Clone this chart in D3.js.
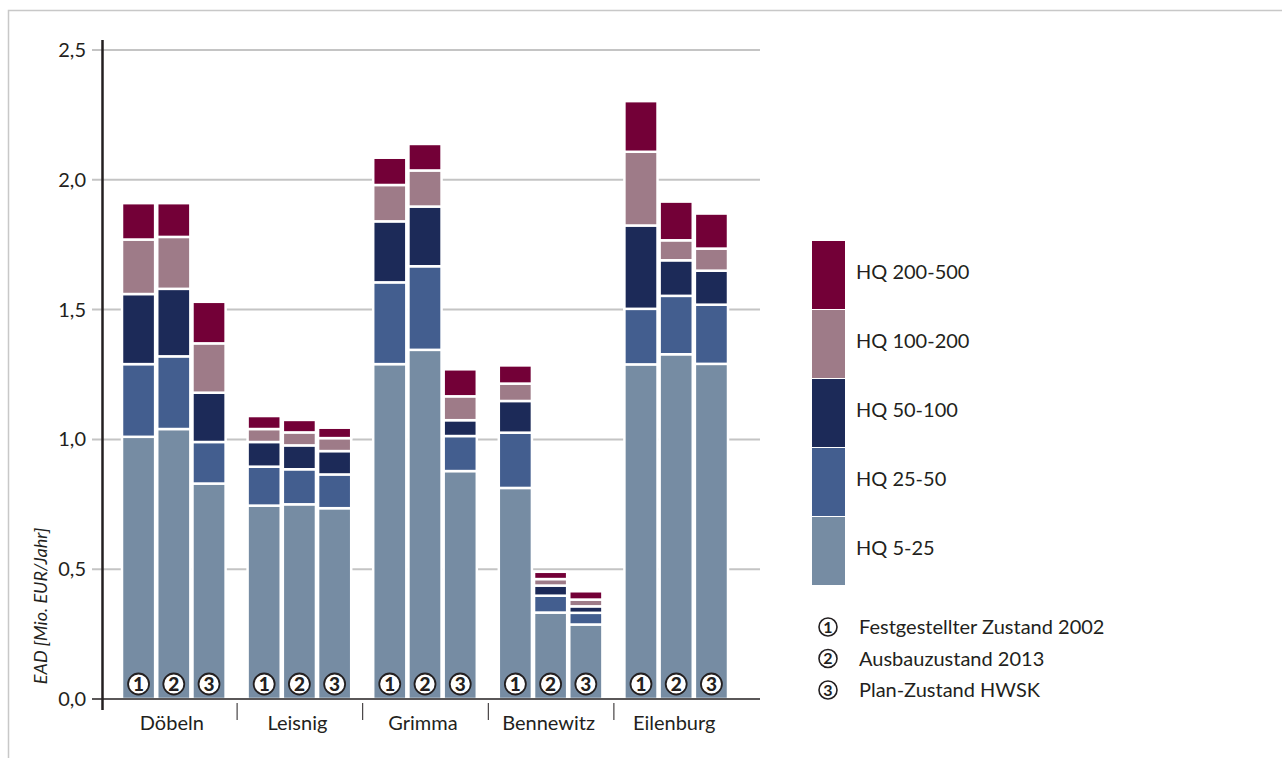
<!DOCTYPE html>
<html>
<head>
<meta charset="utf-8">
<script src="https://cdn.jsdelivr.net/npm/d3@7"></script>
<style>
  body { margin: 0; background: #fff; }
  svg text { font-family: Lato, "Open Sans", sans-serif; fill: #231f20; }
</style>
</head>
<body>
<svg width="1282" height="758"></svg>
<script>
// Data
var towns = ["Döbeln", "Leisnig", "Grimma", "Bennewitz", "Eilenburg"];
var states = ["Festgestellter Zustand 2002", "Ausbauzustand 2013", "Plan-Zustand HWSK"];
var classes = ["HQ 5-25", "HQ 25-50", "HQ 50-100", "HQ 100-200", "HQ 200-500"];
var yTicks = [0, 0.5, 1, 1.5, 2, 2.5];

// one value per bar: town by town, state 1..3
var hq5_25    = [1.01, 1.04, 0.83,  0.745, 0.75, 0.735,  1.29, 1.345, 0.878,  0.813, 0.333, 0.287,  1.289, 1.328, 1.291];
var hq25_50   = [0.28, 0.28, 0.16,  0.15, 0.135, 0.13,   0.315, 0.322, 0.135, 0.213, 0.065, 0.045,  0.214, 0.225, 0.228];
var hq50_100  = [0.27, 0.26, 0.19,  0.095, 0.092, 0.09,  0.235, 0.23, 0.061,  0.122, 0.039, 0.025,  0.321, 0.137, 0.131];
var hq100_200 = [0.21, 0.20, 0.19,  0.05, 0.05, 0.05,    0.14, 0.139, 0.092,  0.067, 0.025, 0.026,  0.284, 0.077, 0.085];
var hq200_500 = [0.14, 0.13, 0.16,  0.05, 0.048, 0.04,   0.105, 0.102, 0.104, 0.07, 0.028, 0.032,   0.195, 0.149, 0.135];

var colors = ["#768ca3", "#435e8f", "#1c2a58", "#9e7b88", "#730037"];

var svg = d3.select("svg");

// frame
svg.append("path")
  .attr("d", "M8.5,758 V10.5 H1282")
  .attr("fill", "none")
  .attr("stroke", "#c8c8c8")
  .attr("stroke-width", 1.5);

// rows for the stack
var series = [hq5_25, hq25_50, hq50_100, hq100_200, hq200_500];
var rows = [];
towns.forEach(function(t, i) {
  states.forEach(function(s, j) {
    var r = { town: t, state: j };
    classes.forEach(function(c, k) { r[c] = series[k][i * 3 + j]; });
    rows.push(r);
  });
});

// Scales
var y = d3.scaleLinear().domain([0, 2.5]).range([699, 50]);
var x0 = d3.scaleBand().domain(towns).range([111, 739]);
var x1 = d3.scaleBand().domain([0, 1, 2]).range([11, x0.bandwidth() - 11]).paddingInner(0.06);
var color = d3.scaleOrdinal().domain(classes).range(colors);

// grid
svg.append("g")
  .selectAll("line")
  .data(yTicks.slice(1))
  .enter().append("line")
    .attr("x1", 92).attr("x2", 760)
    .attr("y1", function(d) { return y(d); })
    .attr("y2", function(d) { return y(d); })
    .attr("stroke", "#c4c4c4")
    .attr("stroke-width", 2);

// bars
var stacked = d3.stack().keys(classes)(rows);
svg.append("g")
  .selectAll("g")
  .data(stacked)
  .enter().append("g")
    .attr("fill", function(d) { return color(d.key); })
  .selectAll("rect")
  .data(function(d) { return d; })
  .enter().append("rect")
    .attr("x", function(d) { return x0(d.data.town) + x1(d.data.state); })
    .attr("width", x1.bandwidth())
    .attr("y", function(d) { return y(d[1]); })
    .attr("height", function(d) { return y(d[0]) - y(d[1]); })
    .attr("stroke", "#fff")
    .attr("stroke-width", 2.5);

// circled numbers inside bars
var marks = svg.append("g")
  .selectAll("g")
  .data(rows)
  .enter().append("g")
    .attr("transform", function(d) {
      return "translate(" + (x0(d.town) + x1(d.state) + x1.bandwidth() / 2) + ",684)";
    });
marks.append("circle")
  .attr("r", 10.5)
  .attr("fill", "#fff")
  .attr("stroke", "#231f20")
  .attr("stroke-width", 1.8);
marks.append("text")
  .attr("text-anchor", "middle")
  .attr("dy", "0.37em")
  .style("font-size", "19px")
  .style("font-weight", "900")
  .text(function(d) { return d.state + 1; });

// axes
svg.append("line")
  .attr("x1", 92).attr("x2", 760)
  .attr("y1", y(0)).attr("y2", y(0))
  .attr("stroke", "#231f20").attr("stroke-width", 1.5);
svg.append("line")
  .attr("x1", 102.5).attr("x2", 102.5)
  .attr("y1", 40).attr("y2", 710)
  .attr("stroke", "#231f20").attr("stroke-width", 2.5);

var fmt = function(d) { return d3.format(".1f")(d).replace(".", ","); };
svg.append("g")
  .selectAll("text")
  .data(yTicks)
  .enter().append("text")
    .attr("x", 86)
    .attr("y", function(d) { return y(d); })
    .attr("dy", "0.35em")
    .attr("text-anchor", "end")
    .style("font-size", "20px")
    .text(fmt);

svg.append("text")
  .attr("transform", "translate(47,606) rotate(-90)")
  .attr("text-anchor", "middle")
  .style("font-size", "18px")
  .style("font-style", "italic")
  .text("EAD [Mio. EUR/Jahr]");

// town labels and separators
svg.append("g")
  .selectAll("text")
  .data(towns)
  .enter().append("text")
    .attr("x", function(d) { return x0(d) + x0.bandwidth() / 2 - 2; })
    .attr("y", 723)
    .attr("dy", "0.35em")
    .attr("text-anchor", "middle")
    .style("font-size", "20px")
    .text(function(d) { return d; });
svg.append("g")
  .selectAll("line")
  .data(towns.slice(1))
  .enter().append("line")
    .attr("x1", function(d) { return x0(d) + 0.5; })
    .attr("x2", function(d) { return x0(d) + 0.5; })
    .attr("y1", 703).attr("y2", 720)
    .attr("stroke", "#231f20").attr("stroke-width", 1);

// legend: classes
var lg = svg.append("g")
  .selectAll("g")
  .data(classes.slice().reverse())
  .enter().append("g")
    .attr("transform", function(d, i) { return "translate(812," + (241 + i * 69) + ")"; });
lg.append("rect")
  .attr("width", 33).attr("height", 68)
  .attr("fill", function(d) { return color(d); });
lg.append("text")
  .attr("x", 44).attr("y", 31)
  .attr("dy", "0.35em")
  .style("font-size", "20px")
  .text(function(d) { return d; });

// legend: states
var ls = svg.append("g")
  .selectAll("g")
  .data(states)
  .enter().append("g")
    .attr("transform", function(d, i) { return "translate(828," + (627 + i * 31.5) + ")"; });
ls.append("circle")
  .attr("r", 9)
  .attr("fill", "#fff")
  .attr("stroke", "#231f20")
  .attr("stroke-width", 1.6);
ls.append("text")
  .attr("text-anchor", "middle")
  .attr("dy", "0.37em")
  .style("font-size", "16px")
  .style("font-weight", "bold")
  .text(function(d, i) { return i + 1; });
ls.append("text")
  .attr("x", 31)
  .attr("dy", "0.35em")
  .style("font-size", "20px")
  .text(function(d) { return d; });
</script>
</body>
</html>
